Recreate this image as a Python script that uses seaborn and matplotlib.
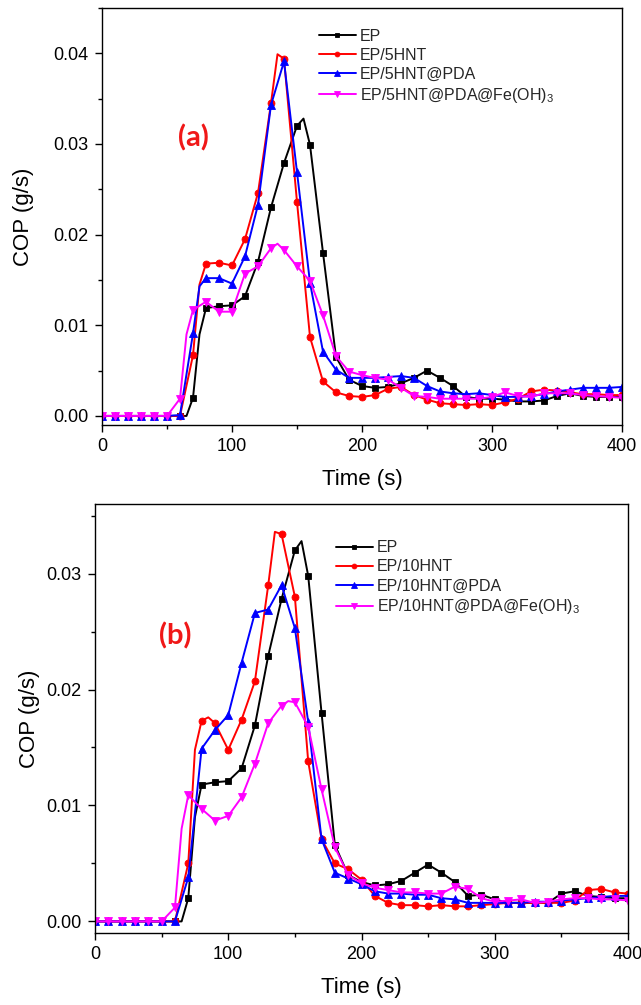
import numpy as np
import pandas as pd
import matplotlib
matplotlib.use("Agg")
import matplotlib.pyplot as plt
from matplotlib.ticker import MultipleLocator, FormatStrFormatter
import seaborn as sns

# ---------------- data ----------------
time_10 = list(range(0, 401, 10))

# Panel (a)
a_ep = [0, 0, 0, 0, 0, 0, 0, 0.0020, 0.0119, 0.0121, 0.0122, 0.0132, 0.0170, 0.0230, 0.0279,
        0.0320, 0.0299, 0.0180, 0.0065, 0.0040, 0.0033, 0.0031, 0.0032, 0.0036, 0.0042, 0.0050,
        0.0042, 0.0033, 0.0021, 0.0019, 0.0019, 0.0018, 0.0016, 0.0016, 0.0017, 0.0022, 0.0025,
        0.0022, 0.0021, 0.0021, 0.0021]
a_ep_extra_t = [65, 75, 155]
a_ep_extra_y = [0.0, 0.0090, 0.0328]

a_hnt = [0, 0, 0, 0, 0, 0, 0, 0.0067, 0.0168, 0.0169, 0.0166, 0.0195, 0.0246, 0.0345, 0.0394,
         0.0236, 0.0087, 0.0038, 0.0026, 0.0022, 0.0021, 0.0023, 0.0030, 0.0032, 0.0023, 0.0018,
         0.0014, 0.0013, 0.0012, 0.0013, 0.0012, 0.0015, 0.0019, 0.0027, 0.0029, 0.0028, 0.0026,
         0.0024, 0.0024, 0.0023, 0.0023]
a_hnt_extra_t = [75, 135]
a_hnt_extra_y = [0.0145, 0.0399]

a_pda = [0, 0, 0, 0, 0, 0, 0.0001, 0.0091, 0.0152, 0.0152, 0.0146, 0.0176, 0.0233, 0.0343, 0.0391,
         0.0269, 0.0147, 0.0071, 0.0051, 0.0042, 0.0042, 0.0042, 0.0043, 0.0044, 0.0042, 0.0033,
         0.0027, 0.0025, 0.0024, 0.0025, 0.0023, 0.0021, 0.0021, 0.0022, 0.0024, 0.0027, 0.0029,
         0.0031, 0.0031, 0.0031, 0.0032]
a_pda_extra_t = [75]
a_pda_extra_y = [0.0143]

a_fe = [0, 0, 0, 0, 0, 0, 0.0019, 0.0117, 0.0126, 0.0115, 0.0115, 0.0157, 0.0165, 0.0185, 0.0183,
        0.0165, 0.0149, 0.0111, 0.0066, 0.0049, 0.0045, 0.0042, 0.0040, 0.0031, 0.0022, 0.0021,
        0.0019, 0.0019, 0.0019, 0.0019, 0.0021, 0.0026, 0.0022, 0.0021, 0.0025, 0.0025, 0.0025,
        0.0023, 0.0022, 0.0021, 0.0020]
a_fe_extra_t = [65, 135]
a_fe_extra_y = [0.0090, 0.0190]

# Panel (b)
b_ep = [0, 0, 0, 0, 0, 0, 0, 0.0020, 0.0118, 0.0120, 0.0121, 0.0132, 0.0169, 0.0229, 0.0278,
        0.0320, 0.0298, 0.0180, 0.0066, 0.0040, 0.0034, 0.0031, 0.0032, 0.0035, 0.0042, 0.0049,
        0.0042, 0.0034, 0.0022, 0.0023, 0.0019, 0.0016, 0.0016, 0.0016, 0.0016, 0.0024, 0.0026,
        0.0022, 0.0021, 0.0020, 0.0020]
b_ep_extra_t = [65, 75, 155]
b_ep_extra_y = [0.0, 0.0090, 0.0328]

b_hnt = [0, 0, 0, 0, 0, 0, 0, 0.0050, 0.0173, 0.0171, 0.0148, 0.0174, 0.0207, 0.0290, 0.0334,
         0.0280, 0.0138, 0.0071, 0.0050, 0.0045, 0.0036, 0.0022, 0.0016, 0.0014, 0.0014, 0.0013,
         0.0014, 0.0013, 0.0013, 0.0014, 0.0015, 0.0016, 0.0016, 0.0016, 0.0016, 0.0016, 0.0018,
         0.0027, 0.0028, 0.0025, 0.0024]
b_hnt_extra_t = [75, 85, 135]
b_hnt_extra_y = [0.0148, 0.0176, 0.0336]

b_pda = [0, 0, 0, 0, 0, 0, 0, 0.0038, 0.0149, 0.0165, 0.0178, 0.0223, 0.0266, 0.0269, 0.0290,
         0.0253, 0.0172, 0.0071, 0.0042, 0.0037, 0.0032, 0.0026, 0.0024, 0.0024, 0.0023, 0.0023,
         0.0020, 0.0019, 0.0016, 0.0016, 0.0016, 0.0016, 0.0016, 0.0017, 0.0017, 0.0018, 0.0019,
         0.0020, 0.0021, 0.0022, 0.0022]
b_pda_extra_t = []
b_pda_extra_y = []

b_fe = [0, 0, 0, 0, 0, 0, 0.0012, 0.0109, 0.0097, 0.0087, 0.0091, 0.0107, 0.0136, 0.0171, 0.0186,
        0.0189, 0.0168, 0.0114, 0.0064, 0.0040, 0.0033, 0.0029, 0.0027, 0.0025, 0.0025, 0.0024,
        0.0024, 0.0030, 0.0028, 0.0020, 0.0017, 0.0018, 0.0019, 0.0016, 0.0017, 0.0019, 0.0020,
        0.0020, 0.0019, 0.0019, 0.0018]
b_fe_extra_t = [65, 145]
b_fe_extra_y = [0.0080, 0.0190]

labels_a = ["EP", "EP/5HNT", "EP/5HNT@PDA", "EP/5HNT@PDA@Fe(OH)$_3$"]
labels_b = ["EP", "EP/10HNT", "EP/10HNT@PDA", "EP/10HNT@PDA@Fe(OH)$_3$"]
colors = ["#000000", "#ff0000", "#0000ff", "#ff00ff"]
markers = ["s", "o", "^", "v"]
marker_sizes = [5.0, 5.0, 5.6, 5.6]

# ---------------- style ----------------
sns.set_theme(style="ticks")
plt.rcParams["font.family"] = ["Liberation Sans", "DejaVu Sans"]
plt.rcParams["mathtext.fontset"] = "custom"
plt.rcParams["mathtext.rm"] = "Liberation Sans"
plt.rcParams["mathtext.it"] = "Liberation Sans:italic"
plt.rcParams["xtick.direction"] = "out"
plt.rcParams["ytick.direction"] = "out"

fig = plt.figure(figsize=(6.41, 10.05), dpi=100)
ax_a = fig.add_axes([102 / 641, 1 - 425 / 1005, (622 - 102) / 641, (425 - 8) / 1005])
ax_b = fig.add_axes([95 / 641, 1 - 933 / 1005, (628 - 95) / 641, (933 - 504) / 1005])


def draw_series(ax, vals, ext_t, ext_y, label, color, marker, msize):
    t = list(time_10) + list(ext_t)
    y = list(vals) + list(ext_y)
    df = pd.DataFrame({"t": t, "y": y}).sort_values("t").reset_index(drop=True)
    mark_idx = [i for i, tv in enumerate(df["t"]) if tv % 10 == 0]
    sns.lineplot(data=df, x="t", y="y", ax=ax, color=color, linewidth=1.4,
                 marker=marker, markersize=msize, markeredgewidth=0.6,
                 markeredgecolor=color, markevery=mark_idx, label=label,
                 estimator=None, sort=True)


def style_axes(ax, ylim, tag, tag_xy, leg_anchor, ylab_x):
    ax.set_xlim(0, 400)
    ax.set_ylim(*ylim)
    ax.xaxis.set_major_locator(MultipleLocator(100))
    ax.xaxis.set_minor_locator(MultipleLocator(50))
    ax.yaxis.set_major_locator(MultipleLocator(0.01))
    ax.yaxis.set_minor_locator(MultipleLocator(0.005))
    ax.yaxis.set_major_formatter(FormatStrFormatter("%.2f"))
    ax.tick_params(which="major", length=5, width=1, labelsize=13, color="black",
                   labelcolor="black", top=False, right=False, pad=4.5)
    ax.tick_params(which="minor", length=2.8, width=1, color="black", top=False, right=False)
    for s in ax.spines.values():
        s.set_visible(True)
        s.set_color("black")
        s.set_linewidth(1.0)
    ax.set_xlabel("Time (s)", fontsize=16, color="black")
    ax.set_ylabel("COP (g/s)", fontsize=16, color="black")
    ax.xaxis.label.set_va("center")
    ax.yaxis.label.set_va("center")
    ax.xaxis.set_label_coords(0.5, -54 / (ax.get_position().height * 1005))
    ax.yaxis.set_label_coords(ylab_x, 0.5)
    ax.text(tag_xy[0], tag_xy[1], tag, color="#f01818", fontsize=21, fontweight="bold",
            family=["Lato", "DejaVu Sans"], ha="center", va="center")
    ax.legend(loc="upper left", bbox_to_anchor=leg_anchor, frameon=False, fontsize=11.5,
              handlelength=2.3, handletextpad=0.25, labelspacing=0.25, borderaxespad=0,
              markerscale=0.7)
    ax.grid(False)


series_a = [(a_ep, a_ep_extra_t, a_ep_extra_y), (a_hnt, a_hnt_extra_t, a_hnt_extra_y),
            (a_pda, a_pda_extra_t, a_pda_extra_y), (a_fe, a_fe_extra_t, a_fe_extra_y)]
series_b = [(b_ep, b_ep_extra_t, b_ep_extra_y), (b_hnt, b_hnt_extra_t, b_hnt_extra_y),
            (b_pda, b_pda_extra_t, b_pda_extra_y), (b_fe, b_fe_extra_t, b_fe_extra_y)]

for (v, et, ey), lab, c, m, ms in zip(series_a, labels_a, colors, markers, marker_sizes):
    draw_series(ax_a, v, et, ey, lab, c, m, ms)
for (v, et, ey), lab, c, m, ms in zip(series_b, labels_b, colors, markers, marker_sizes):
    draw_series(ax_b, v, et, ey, lab, c, m, ms)

style_axes(ax_a, (-0.001, 0.045), "(a)", (70, 0.0307), (0.405, 0.965), (24 - 102) / 520)
style_axes(ax_b, (-0.001, 0.036), "(b)", (60, 0.0246), (0.44, 0.93), (29 - 95) / 533)

fig.savefig("out.png", dpi=100)
